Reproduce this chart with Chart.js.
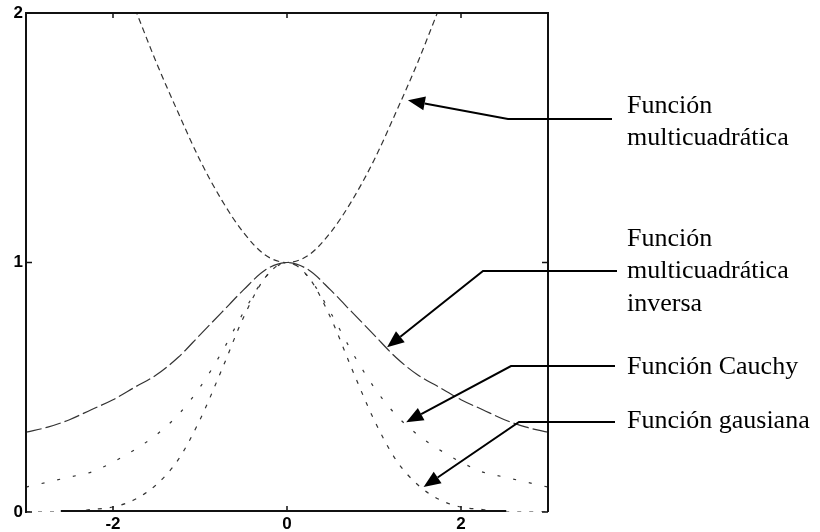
<!DOCTYPE html>
<html>
<head>
<meta charset="utf-8">
<script src="https://cdn.jsdelivr.net/npm/chart.js@4/dist/chart.umd.min.js"></script>
<style>
  html, body { margin: 0; padding: 0; background: #fff; }
  #wrap { width: 820px; height: 532px; }
</style>
</head>
<body>
<div id="wrap"><canvas id="c" width="820" height="532"></canvas></div>
<script>
// Sample positions along the horizontal axis
const xValues = [-3, -2.75, -2.5, -2.25, -2, -1.75, -1.5, -1.25, -1, -0.75, -0.5, -0.25, 0,
                 0.25, 0.5, 0.75, 1, 1.25, 1.5, 1.75, 2, 2.25, 2.5, 2.75, 3];
// The multiquadric leaves the plot above 2, so it is sampled on a shorter span
const xMulti = [-2, -1.75, -1.5, -1.25, -1, -0.75, -0.5, -0.25, 0,
                0.25, 0.5, 0.75, 1, 1.25, 1.5, 1.75, 2];

const multicuadratica = [2.24, 2.02, 1.80, 1.60, 1.41, 1.25, 1.12, 1.03, 1.00,
                         1.03, 1.12, 1.25, 1.41, 1.60, 1.80, 2.02, 2.24];
const multicuadraticaInversa = [0.32, 0.34, 0.37, 0.41, 0.45, 0.50, 0.55, 0.62, 0.71, 0.80, 0.89, 0.97, 1.00,
                                0.97, 0.89, 0.80, 0.71, 0.62, 0.55, 0.50, 0.45, 0.41, 0.37, 0.34, 0.32];
const cauchy = [0.10, 0.12, 0.14, 0.16, 0.20, 0.25, 0.31, 0.39, 0.50, 0.64, 0.80, 0.94, 1.00,
                0.94, 0.80, 0.64, 0.50, 0.39, 0.31, 0.25, 0.20, 0.16, 0.14, 0.12, 0.10];
const gausiana = [0.00, 0.00, 0.00, 0.01, 0.02, 0.05, 0.11, 0.21, 0.37, 0.57, 0.78, 0.94, 1.00,
                  0.94, 0.78, 0.57, 0.37, 0.21, 0.11, 0.05, 0.02, 0.01, 0.00, 0.00, 0.00];

const xTicks = [-2, 0, 2];
const yTicks = [0, 1, 2];

const pairs = (xs, ys) => xs.map((x, i) => ({ x: x, y: ys[i] }));

const INK = '#111';
const TICK_FONT = 'bold 17px "Liberation Sans", Arial, sans-serif';

// Plot frame: left, top and right borders, a partial base line, inward tick marks and tick labels
const framePlugin = {
  id: 'frame',
  afterDatasetsDraw(chart) {
    const { ctx, chartArea: a, scales: { x, y } } = chart;
    ctx.save();
    ctx.strokeStyle = INK;
    ctx.lineWidth = 2;
    ctx.beginPath();
    ctx.moveTo(a.left, a.bottom + 1);
    ctx.lineTo(a.left, a.top);
    ctx.lineTo(a.right, a.top);
    ctx.lineTo(a.right, a.bottom);
    ctx.stroke();
    ctx.beginPath();
    ctx.moveTo(x.getPixelForValue(-2.6), a.bottom - 1);
    ctx.lineTo(x.getPixelForValue(2.52), a.bottom - 1);
    ctx.stroke();
    ctx.lineWidth = 1.5;
    ctx.beginPath();
    xTicks.forEach(v => {
      const px = x.getPixelForValue(v);
      ctx.moveTo(px, a.top); ctx.lineTo(px, a.top + 5);
      ctx.moveTo(px, a.bottom); ctx.lineTo(px, a.bottom - 6);
    });
    yTicks.forEach(v => {
      const py = y.getPixelForValue(v);
      ctx.moveTo(a.left, py); ctx.lineTo(a.left + 6, py);
      ctx.moveTo(a.right, py); ctx.lineTo(a.right - 6, py);
    });
    ctx.stroke();

    ctx.fillStyle = '#000';
    ctx.font = TICK_FONT;
    ctx.textAlign = 'center';
    ctx.textBaseline = 'top';
    xTicks.forEach(v => ctx.fillText(v < 0 ? '-' + Math.abs(v) : String(v), x.getPixelForValue(v), a.bottom + 4));
    ctx.textAlign = 'right';
    ctx.textBaseline = 'middle';
    yTicks.forEach(v => ctx.fillText(String(v), a.left - 3, y.getPixelForValue(v)));
    ctx.restore();
  }
};

// Callout labels with leader lines and filled arrow heads
const notes = [
  { lines: ['Función', 'multicuadrática'], baselines: [113, 145], tip: [1.39, 1.65], elbow: [508, 119], end: 612 },
  { lines: ['Función', 'multicuadrática', 'inversa'], baselines: [246, 278, 311], tip: [1.15, 0.66], elbow: [483, 271], end: 617 },
  { lines: ['Función Cauchy'], baselines: [374], tip: [1.37, 0.36], elbow: [511, 366], end: 615 },
  { lines: ['Función gausiana'], baselines: [428], tip: [1.57, 0.10], elbow: [519, 422], end: 615 }
];

const notesPlugin = {
  id: 'notes',
  afterDraw(chart) {
    const { ctx, scales: { x, y } } = chart;
    ctx.save();
    ctx.fillStyle = '#000';
    ctx.strokeStyle = '#000';
    ctx.font = '26px "Liberation Serif", "Times New Roman", serif';
    ctx.textAlign = 'left';
    ctx.textBaseline = 'alphabetic';
    notes.forEach(n => {
      n.lines.forEach((t, i) => ctx.fillText(t, 627, n.baselines[i]));
      const tx = x.getPixelForValue(n.tip[0]);
      const ty = y.getPixelForValue(n.tip[1]);
      const [ex, ey] = n.elbow;
      const ang = Math.atan2(ty - ey, tx - ex);
      const headLen = 17, headHalf = 7;
      const bx = tx - headLen * Math.cos(ang);
      const by = ty - headLen * Math.sin(ang);
      ctx.lineWidth = 2;
      ctx.beginPath();
      ctx.moveTo(n.end, ey);
      ctx.lineTo(ex, ey);
      ctx.lineTo(bx, by);
      ctx.stroke();
      ctx.beginPath();
      ctx.moveTo(tx, ty);
      ctx.lineTo(bx + headHalf * Math.sin(ang), by - headHalf * Math.cos(ang));
      ctx.lineTo(bx - headHalf * Math.sin(ang), by + headHalf * Math.cos(ang));
      ctx.closePath();
      ctx.fill();
    });
    ctx.restore();
  }
};

const curve = (label, data, dash, width) => ({
  label: label,
  data: data,
  borderColor: '#333',
  borderWidth: width,
  borderDash: dash,
  pointRadius: 0,
  fill: false,
  cubicInterpolationMode: 'monotone'
});

new Chart(document.getElementById('c'), {
  type: 'line',
  data: {
    datasets: [
      curve('Función multicuadrática', pairs(xMulti, multicuadratica), [6, 4], 1.2),
      curve('Función multicuadrática inversa', pairs(xValues, multicuadraticaInversa), [16, 4], 1.2),
      curve('Función Cauchy', pairs(xValues, cauchy), [3, 13], 1.2),
      curve('Función gausiana', pairs(xValues, gausiana), [4, 8], 1.2)
    ]
  },
  options: {
    responsive: false,
    animation: false,
    layout: { padding: { top: 13, right: 272, left: 0, bottom: 0 } },
    plugins: { legend: { display: false }, tooltip: { enabled: false } },
    scales: {
      // Axis scales place the marks; their labels are painted by the frame plugin
      x: {
        type: 'linear', min: -3, max: 3,
        grid: { display: false, drawTicks: false },
        border: { display: false },
        afterFit: s => { s.height = 20; },
        ticks: { display: false }
      },
      y: {
        type: 'linear', min: 0, max: 2,
        grid: { display: false, drawTicks: false },
        border: { display: false },
        afterFit: s => { s.width = 26; },
        ticks: { display: false }
      }
    }
  },
  plugins: [framePlugin, notesPlugin]
});
</script>
</body>
</html>
